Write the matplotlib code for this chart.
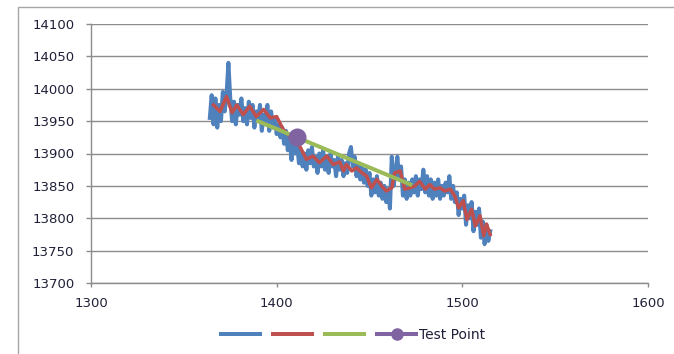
import matplotlib
matplotlib.use('Agg')
import matplotlib.pyplot as plt
from matplotlib.lines import Line2D
from matplotlib.patches import Rectangle


# raw signal, one reading per unit from 1364 to 1515
blue_x = list(range(1364, 1516))
blue_y = [13955, 13990, 13945, 13985, 13940, 13975, 13950, 13995, 13965, 13990,
          14040, 13985, 13950, 13980, 13945, 13975, 13960, 13985, 13950, 13970,
          13945, 13980, 13955, 13975, 13940, 13965, 13950, 13975, 13935, 13960,
          13945, 13975, 13935, 13965, 13940, 13955, 13930, 13945, 13925, 13940,
          13915, 13935, 13905, 13925, 13890, 13920, 13900, 13915, 13885, 13905,
          13880, 13900, 13875, 13905, 13885, 13910, 13880, 13895, 13870, 13900,
          13880, 13905, 13875, 13895, 13870, 13900, 13880, 13890, 13865, 13895,
          13875, 13890, 13865, 13885, 13870, 13900, 13910, 13880, 13895, 13865,
          13885, 13860, 13880, 13855, 13875, 13850, 13870, 13835, 13860, 13840,
          13865, 13835, 13855, 13830, 13850, 13825, 13845, 13815, 13895, 13850,
          13870, 13895, 13860, 13880, 13835, 13860, 13830, 13855, 13835, 13860,
          13840, 13865, 13835, 13860, 13845, 13875, 13840, 13865, 13835, 13860,
          13830, 13855, 13835, 13860, 13830, 13850, 13835, 13855, 13840, 13865,
          13830, 13850, 13825, 13840, 13805, 13830, 13815, 13835, 13790, 13820,
          13800, 13825, 13780, 13810, 13790, 13815, 13770, 13795, 13760, 13790,
          13765, 13780]

# smoothed signal
red_x = [1366, 1369.5, 1373, 1376, 1378.5, 1382, 1385.5, 1389, 1393, 1396.5,
         1400, 1403.5, 1407, 1412.5, 1416, 1419.5, 1423, 1427, 1430.5, 1434,
         1436, 1437.5, 1440.5, 1443, 1446, 1448.5, 1451, 1454, 1456.5, 1459,
         1462, 1463.5, 1466.5, 1469, 1472, 1474.5, 1477, 1480, 1482.5, 1485,
         1488, 1490.5, 1493.5, 1496, 1498, 1500.5, 1502.5, 1505, 1507, 1509.5,
         1511.5, 1513, 1515]
red_y = [13975, 13965, 13988, 13963, 13975, 13960, 13973, 13957, 13968, 13955,
         13957, 13937, 13927, 13911, 13891, 13896, 13886, 13896, 13883, 13887,
         13873, 13883, 13873, 13878, 13870, 13865, 13847, 13860, 13850, 13842,
         13847, 13870, 13873, 13845, 13847, 13850, 13857, 13845, 13852, 13845,
         13847, 13842, 13845, 13834, 13816, 13827, 13798, 13814, 13788, 13804,
         13773, 13791, 13775]

# fitted trend
green_x = [1389, 1473]
green_y = [13951, 13851]

test_x = [1411]
test_y = [13925]

blue = '#4F81BD'
red = '#C0504D'
green = '#9BBB59'
purple = '#8064A2'
axis_gray = '#8C8C8C'
label_color = '#202038'

fig = plt.figure(figsize=(6.74, 3.54), dpi=100)
ax = fig.add_axes([91 / 674, 1 - 283 / 354, (648 - 91) / 674, (283 - 24) / 354])

ax.plot(blue_x, blue_y, color=blue, lw=2.9, solid_joinstyle='round', zorder=3)
ax.plot(red_x, red_y, color=red, lw=2.5, solid_joinstyle='round', zorder=4)
ax.plot(green_x, green_y, color=green, lw=2.9, solid_capstyle='butt', zorder=5)
ax.plot(test_x, test_y, 'o', color=purple, markersize=12, zorder=6)

ax.set_xlim(1300, 1600)
ax.set_ylim(13700, 14100)
ax.set_xticks([1300, 1400, 1500, 1600])
ax.set_yticks(range(13700, 14101, 50))
ax.grid(axis='y', color=axis_gray, lw=1.0)
ax.set_axisbelow(True)

for side in ['top', 'right']:
    ax.spines[side].set_visible(False)
for side in ['left', 'bottom']:
    ax.spines[side].set_color(axis_gray)
    ax.spines[side].set_linewidth(1.0)

ax.tick_params(axis='y', length=3.6, width=1.0, color=axis_gray, pad=8.4,
               labelsize=9.5, labelcolor=label_color)
ax.tick_params(axis='x', length=3, width=1.0, color=axis_gray, pad=7,
               labelsize=9.5, labelcolor=label_color)

# chart area frame (only left and top edges fall inside the picture)
fig.add_artist(Rectangle((18 / 674, -0.2), 1.2, 1.2 - 7 / 354, transform=fig.transFigure,
                         fill=False, edgecolor='#A6A6A6', lw=1.0, clip_on=False))

handles = [Line2D([], [], color=blue, lw=2.9),
           Line2D([], [], color=red, lw=2.9),
           Line2D([], [], color=green, lw=2.9),
           Line2D([], [], color=purple, lw=2.9, marker='o', markersize=8)]
labels = ['', '', '', 'Test Point']
fig.legend(handles, labels, loc='center', bbox_to_anchor=(353 / 674, 1 - 335 / 354),
           ncol=4, frameon=False, fontsize=10, handlelength=2.8, handletextpad=0.2,
           columnspacing=0.75, borderpad=0, labelcolor=label_color)

fig.savefig('out.png', dpi=100)
plt.close(fig)
